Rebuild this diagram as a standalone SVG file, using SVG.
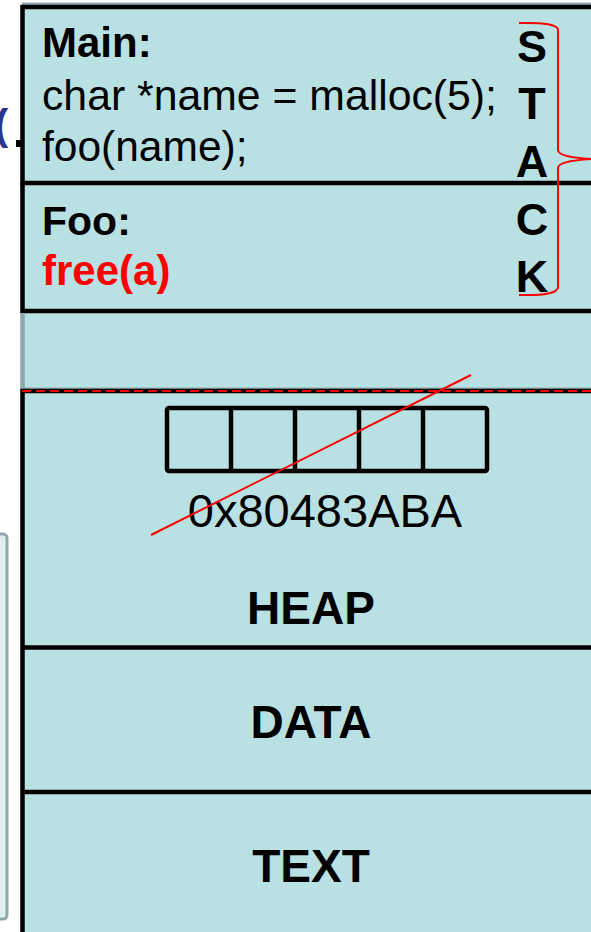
<svg xmlns="http://www.w3.org/2000/svg" width="591" height="932" viewBox="0 0 591 932">
<style>
  .fill { fill: #b9e0e3; }
  .edge { stroke: #000; stroke-width: 4.5; fill: none; }
  .shadow { stroke: #8fa8aa; stroke-width: 4; fill: none; }
  .t { font-family: "Liberation Sans", Arial, sans-serif; fill: #000; }
  .b { font-weight: bold; }
  .red { fill: #ff0000; }
</style>
<rect width="591" height="932" fill="#ffffff"/>
<g id="side-panel">
  <rect x="-20" y="534" width="27" height="385" rx="4" fill="#e0eef1" stroke="#8fa8aa" stroke-width="3"/>
  <text class="t b" x="-6" y="139" font-size="43" style="fill:#2b3590">(</text>
  <rect x="16" y="140" width="5" height="7" fill="#000"/>
</g>
<rect class="fill" x="22" y="7" width="580" height="930"/>
<g id="main-frame">
  <line class="shadow" x1="22" y1="4.5" x2="591" y2="4.5" stroke-width="2"/>
  <path class="edge" d="M591 7 H22.5 V183 H591"/>
  <text class="t b" x="42" y="57" font-size="42">Main:</text>
  <text class="t" x="42" y="110" font-size="42.5" textLength="455" lengthAdjust="spacingAndGlyphs">char *name = malloc(5);</text>
  <text class="t" x="42" y="161" font-size="42.5">foo(name);</text>
</g>
<g id="foo-frame">
  <path class="edge" d="M22.5 183 V311 H591"/>
  <text class="t b" x="42" y="235" font-size="41">Foo:</text>
  <text class="t b red" x="42" y="285" font-size="42">free(a)</text>
</g>
<g id="free-space">
  <line x1="22.5" y1="313" x2="22.5" y2="391" stroke="#8fa8aa" stroke-width="4.5"/>
</g>
<g id="heap">
  <line x1="22" y1="388.5" x2="591" y2="388.5" stroke="#8fa8aa" stroke-width="2"/>
  <path class="edge" d="M591 391 H22.5 V932"/>
  <line x1="22" y1="391" x2="591" y2="391" stroke="#ff0000" stroke-width="2" stroke-dasharray="9 5"/>
  <g id="memory-block">
    <rect class="edge" x="167" y="408" width="320" height="63" rx="2"/>
    <line class="edge" x1="231" y1="408" x2="231" y2="471"/>
    <line class="edge" x1="295" y1="408" x2="295" y2="471"/>
    <line class="edge" x1="359" y1="408" x2="359" y2="471"/>
    <line class="edge" x1="423" y1="408" x2="423" y2="471"/>
  </g>
  <text class="t" x="325" y="527" font-size="47" text-anchor="middle">0x80483ABA</text>
  <text class="t b" x="311" y="624" font-size="46" text-anchor="middle">HEAP</text>
</g>
<g id="data">
  <line class="edge" x1="22" y1="647.5" x2="591" y2="647.5"/>
  <text class="t b" x="311" y="738" font-size="46" text-anchor="middle">DATA</text>
</g>
<g id="text-segment">
  <line class="edge" x1="22" y1="792" x2="591" y2="792"/>
  <text class="t b" x="311" y="882" font-size="46" text-anchor="middle">TEXT</text>
</g>
<g id="stack-label">
  <text class="t b" x="532" y="62" font-size="45" text-anchor="middle">S</text>
  <text class="t b" x="532" y="119" font-size="45" text-anchor="middle">T</text>
  <text class="t b" x="532" y="177" font-size="45" text-anchor="middle">A</text>
  <text class="t b" x="532" y="235" font-size="45" text-anchor="middle">C</text>
  <text class="t b" x="532" y="292" font-size="45" text-anchor="middle">K</text>
</g>
<g id="connectors">
  <path d="M519 23 Q558 22 558 30 V150 Q558 157 591 159 Q558 161 558 168 V287 Q558 296 519 295" fill="none" stroke="#ff0000" stroke-width="2"/>
  <line x1="151" y1="535" x2="471" y2="375" stroke="#ff0000" stroke-width="2"/>
</g>
</svg>
